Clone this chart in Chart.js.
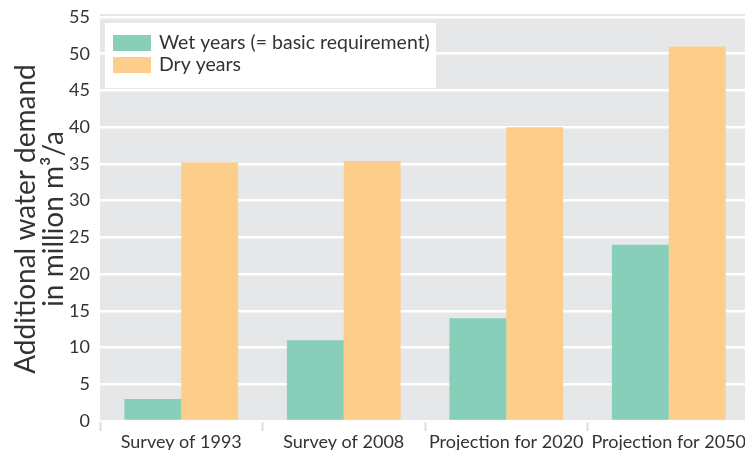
<!DOCTYPE html>
<html lang="en">
<head>
  <meta charset="UTF-8">
  <title>Additional water demand</title>
  <style>
    html, body { margin: 0; padding: 0; background: #fff; overflow: hidden; }
    .chartContainer { position: relative; width: 750px; height: 450px; }
  </style>
</head>
<body>
  <div class="chartContainer">
    <canvas id="myChart"></canvas>
  </div>
  <script src="https://cdn.jsdelivr.net/npm/chart.js"></script>
  <script>
    // data
    const categories = ['Survey of 1993', 'Survey of 2008', 'Projection for 2020', 'Projection for 2050']
    const wetYears = [3, 11, 14, 24]
    const dryYears = [35.2, 35.4, 40, 51]
    const seriesNames = ['Wet years (= basic requirement)', 'Dry years']
    const yTitle = ['Additional water demand', 'in million m³/a']

    const fontFamily = 'Lato, "Noto Sans", sans-serif'
    const textColor = '#333'

    // grey plot background
    const plotBg = {
      id: 'plotBg',
      beforeDraw(chart) {
        const { ctx, chartArea } = chart
        ctx.save()
        ctx.fillStyle = '#e6e7e9'
        ctx.fillRect(chartArea.left, chartArea.top - 3, chartArea.right - chartArea.left, chartArea.bottom - chartArea.top + 3)
        ctx.restore()
      }
    }

    // legend box inside the plot, top left
    const innerLegend = {
      id: 'innerLegend',
      afterDatasetsDraw(chart) {
        const { ctx, chartArea } = chart
        const x = chartArea.left + 5
        const y = chartArea.top + 6
        ctx.save()
        ctx.fillStyle = '#fff'
        ctx.fillRect(x, y, 331, 65)
        ctx.font = '19.5px ' + fontFamily
        ctx.textBaseline = 'middle'
        chart.data.datasets.forEach((ds, i) => {
          const rowY = y + 12 + i * 22
          ctx.fillStyle = ds.backgroundColor
          ctx.fillRect(x + 8, rowY, 38, 16)
          ctx.fillStyle = textColor
          ctx.fillText(ds.label, x + 54, rowY + 8)
        })
        ctx.restore()
      }
    }

    const data = {
      labels: categories,
      datasets: [{
        label: seriesNames[0],
        backgroundColor: '#88cfba',
        data: wetYears
      },
      {
        label: seriesNames[1],
        backgroundColor: '#fdcd8a',
        data: dryYears
      }]
    }

    const config = {
      type: 'bar',
      data: data,
      options: {
        responsive: true,
        maintainAspectRatio: false,
        animation: false,
        layout: { padding: { top: 17, left: 0, right: 0, bottom: 0 } },
        datasets: { bar: { barPercentage: 1, categoryPercentage: 0.7 } },
        plugins: {
          legend: { display: false },
          tooltip: { enabled: false }
        },
        scales: {
          x: {
            offset: true,
            border: { display: false },
            grid: {
              offset: true,
              drawOnChartArea: false,
              drawTicks: true,
              tickLength: 10,
              tickWidth: 2,
              tickColor: '#dcdcdc'
            },
            ticks: {
              color: textColor,
              font: { family: fontFamily, size: 18 },
              maxRotation: 0,
              autoSkip: false,
              padding: 0
            },
            afterFit(scale) { scale.height = 29; scale.paddingLeft = 0; scale.paddingRight = 0 }
          },
          y: {
            min: 0,
            max: 55,
            border: { display: false },
            grid: {
              color: '#fff',
              lineWidth: 2.5,
              drawTicks: false
            },
            ticks: {
              stepSize: 5,
              color: textColor,
              font: { family: fontFamily, size: 18 },
              padding: 10
            },
            title: {
              display: true,
              text: yTitle,
              color: textColor,
              font: { family: fontFamily, size: 28, lineHeight: 1.0 },
              padding: { top: 12, bottom: 0 }
            },
            afterFit(scale) { scale.width = 100; scale.paddingTop = 0; scale.paddingBottom = 0 }
          }
        }
      },
      plugins: [plotBg, innerLegend]
    }

    const myChart = new Chart(document.getElementById('myChart'), config)
  </script>
</body>
</html>
